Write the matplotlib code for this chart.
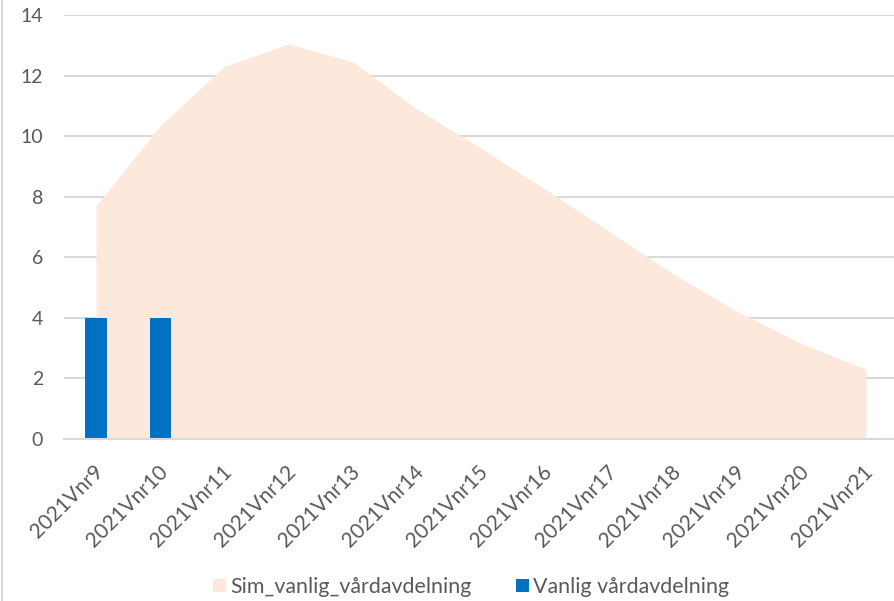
import matplotlib
matplotlib.use("Agg")
import matplotlib.pyplot as plt
import numpy as np
from matplotlib.lines import Line2D
from matplotlib.patches import Patch
import matplotlib.transforms as mtransforms

plt.rcParams['font.family'] = ['Lato', 'DejaVu Sans']

weeks = ["2021Vnr9", "2021Vnr10", "2021Vnr11", "2021Vnr12", "2021Vnr13",
         "2021Vnr14", "2021Vnr15", "2021Vnr16", "2021Vnr17", "2021Vnr18",
         "2021Vnr19", "2021Vnr20", "2021Vnr21"]
sim_vanlig = [7.7, 10.35, 12.3, 13.05, 12.45, 10.9, 9.6, 8.25, 6.85, 5.45, 4.2, 3.15, 2.3]
vanlig = [4, 4]

peach = "#FCE9DB"
blue = "#0070C0"
grid_col = "#D9D9D9"
text_col = "#595959"

fig = plt.figure(figsize=(8.95, 6.01), dpi=100)
ax = fig.add_axes([64/895, 162/601, 834/895, 424/601])

x = np.arange(len(weeks))
ax.fill_between(x, 0, sim_vanlig, color=peach, linewidth=0, zorder=2)
ax.bar(np.arange(len(vanlig)), vanlig, width=0.33, color=blue, zorder=3)

ax.set_xlim(-0.5, len(weeks) - 0.5)
ax.set_ylim(0, 14)
ax.set_yticks(range(0, 15, 2))
ax.grid(axis='y', color=grid_col, linewidth=1.5, zorder=1)
ax.set_axisbelow(True)
for s in ['top', 'right', 'left']:
    ax.spines[s].set_visible(False)
ax.spines['bottom'].set_color(grid_col)
ax.spines['bottom'].set_linewidth(1.5)
ax.spines['bottom'].set_zorder(4)

ax.tick_params(axis='y', length=0, pad=15, labelsize=14, labelcolor=text_col)
ax.tick_params(axis='x', length=0, pad=4, labelsize=15, labelcolor=text_col)
ax.set_xticks(x)
ax.set_xticklabels(weeks, rotation=45, ha='right', rotation_mode='anchor')
offset = mtransforms.ScaledTranslation(-3/100, -17/100, fig.dpi_scale_trans)
for lbl in ax.get_xticklabels():
    lbl.set_transform(lbl.get_transform() + offset)

handles = [Patch(facecolor=peach, edgecolor='none'),
           Patch(facecolor=blue, edgecolor='none')]
fig.legend(handles, ["Sim_vanlig_vårdavdelning", "Vanlig vårdavdelning"],
           loc='center', bbox_to_anchor=(471/895, 1 - 587/601), ncol=2,
           frameon=False, fontsize=15.4, labelcolor=text_col,
           handlelength=0.6, handleheight=0.6, handletextpad=0.2, columnspacing=2.1)

# chart border on the left edge
fig.add_artist(Line2D([2/895, 2/895], [0, 1], color=grid_col, linewidth=1.5,
                      transform=fig.transFigure))

fig.savefig("out.png", dpi=100)
